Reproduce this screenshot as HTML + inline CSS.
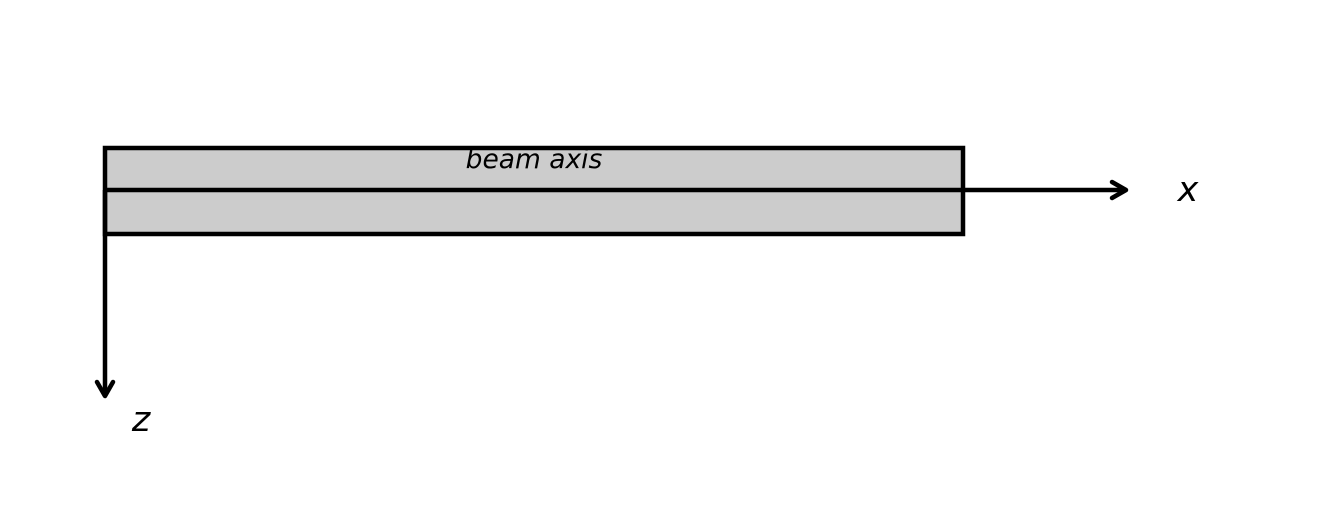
<!DOCTYPE html>
<html><head><meta charset="utf-8"><style>html,body{margin:0;padding:0;background:#fff}svg{display:block}</style></head>
<body>
<svg width="1324" height="510" xmlns="http://www.w3.org/2000/svg">
<rect x="105" y="148" width="858" height="86" fill="#cccccc" stroke="#000" stroke-width="4.5"/>
<line x1="105" y1="190" x2="1125" y2="190" stroke="#000" stroke-width="4.5"/>
<path d="M1112 182 L1126 190 L1112 198" fill="none" stroke="#000" stroke-width="4.5" stroke-linecap="round" stroke-linejoin="round"/>
<line x1="105" y1="190" x2="105" y2="395" stroke="#000" stroke-width="4.5"/>
<path d="M97 382 L105 396 L113 382" fill="none" stroke="#000" stroke-width="4.5" stroke-linecap="round" stroke-linejoin="round"/>
<text x="534" y="168" font-family="DejaVu Sans, sans-serif" font-style="italic" font-size="26.5" text-anchor="middle">beam axis</text>
<text x="1188" y="201" font-family="DejaVu Sans, sans-serif" font-style="italic" font-size="35" text-anchor="middle">x</text>
<text x="141" y="431" font-family="DejaVu Sans, sans-serif" font-style="italic" font-size="35" text-anchor="middle">z</text>
</svg>
</body></html>
